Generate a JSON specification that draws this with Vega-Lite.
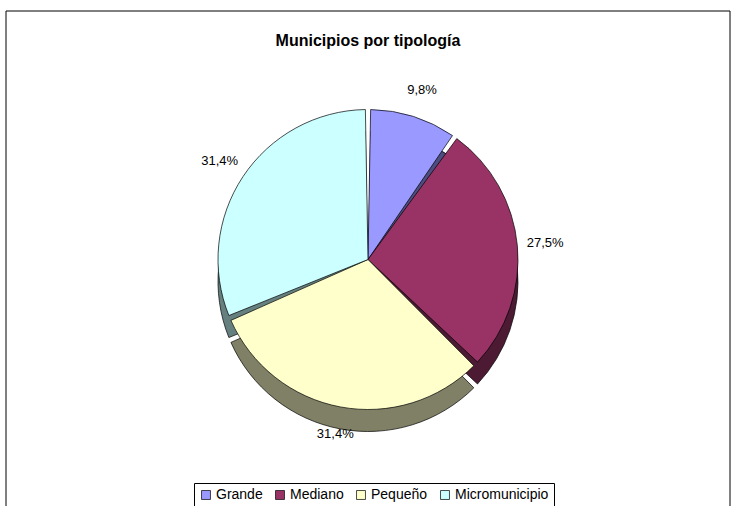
{
  "$schema": "https://vega.github.io/schema/vega-lite/v6.json",
  "width": 737,
  "height": 506,
  "autosize": {"type": "fit", "contains": "padding"},
  "padding": {"left": 5, "top": 10, "right": 6, "bottom": -3},
  "background": "#ffffff",
  "config": {
    "view": {"stroke": null},
    "font": "Liberation Sans"
  },
  "title": {
    "text": "Municipios por tipología",
    "font": "Liberation Sans",
    "fontSize": 16,
    "fontWeight": "bold",
    "color": "#000000",
    "anchor": "middle",
    "offset": -38
  },
  "datasets": {
    "municipios": [
      {"tipo": "Grande", "n": 5, "orden": 1, "etiqueta": "9,8%"},
      {"tipo": "Mediano", "n": 14, "orden": 2, "etiqueta": "27,5%"},
      {"tipo": "Pequeño", "n": 16, "orden": 3, "etiqueta": "31,4%"},
      {"tipo": "Micromunicipio", "n": 16, "orden": 4, "etiqueta": "31,4%"}
    ],
    "marco": [{"k": 1}]
  },
  "layer": [
    {
      "data": {"name": "marco"},
      "mark": {"type": "rect", "fill": null, "stroke": "#000000", "strokeWidth": 1},
      "encoding": {}
    },
    {
      "data": {"name": "municipios"},
      "mark": {"type": "arc", "outerRadius": 150, "padAngle": 0.035, "yOffset": 22, "stroke": "#000000", "strokeWidth": 0.7},
      "encoding": {
        "theta": {"field": "n", "type": "quantitative", "stack": true},
        "order": {"field": "orden", "type": "quantitative"},
        "color": {
          "field": "tipo",
          "type": "nominal",
          "scale": {"domain": ["Grande", "Mediano", "Pequeño", "Micromunicipio"], "range": ["#4d4d80", "#4d1a33", "#808066", "#668080"]},
          "legend": null
        }
      }
    },
    {
      "data": {"name": "municipios"},
      "mark": {"type": "arc", "outerRadius": 150, "padAngle": 0.035, "stroke": "#000000", "strokeWidth": 0.7},
      "encoding": {
        "theta": {"field": "n", "type": "quantitative", "stack": true},
        "order": {"field": "orden", "type": "quantitative"},
        "color": {
          "field": "tipo",
          "type": "nominal",
          "scale": {"domain": ["Grande", "Mediano", "Pequeño", "Micromunicipio"], "range": ["#9999ff", "#993366", "#ffffcc", "#ccffff"]},
          "legend": {
            "title": null,
            "orient": "none",
            "legendX": 188,
            "legendY": 472,
            "direction": "horizontal",
            "symbolType": "square",
            "symbolSize": 80,
            "symbolStrokeColor": "#000000",
            "symbolStrokeWidth": 0.7,
            "labelFont": "Liberation Sans",
            "labelFontSize": 14,
            "labelColor": "#000000",
            "columnPadding": 10,
            "labelOffset": 3,
            "strokeColor": "#000000",
            "padding": 5,
            "fillColor": "#ffffff"
          }
        }
      }
    },
    {
      "data": {"name": "municipios"},
      "mark": {"type": "text", "radius": 178, "font": "Liberation Sans", "fontSize": 13, "color": "#000000"},
      "encoding": {
        "theta": {"field": "n", "type": "quantitative", "stack": true},
        "order": {"field": "orden", "type": "quantitative"},
        "text": {"field": "etiqueta", "type": "nominal"}
      }
    }
  ],
  "resolve": {"scale": {"color": "independent", "theta": "shared"}}
}
